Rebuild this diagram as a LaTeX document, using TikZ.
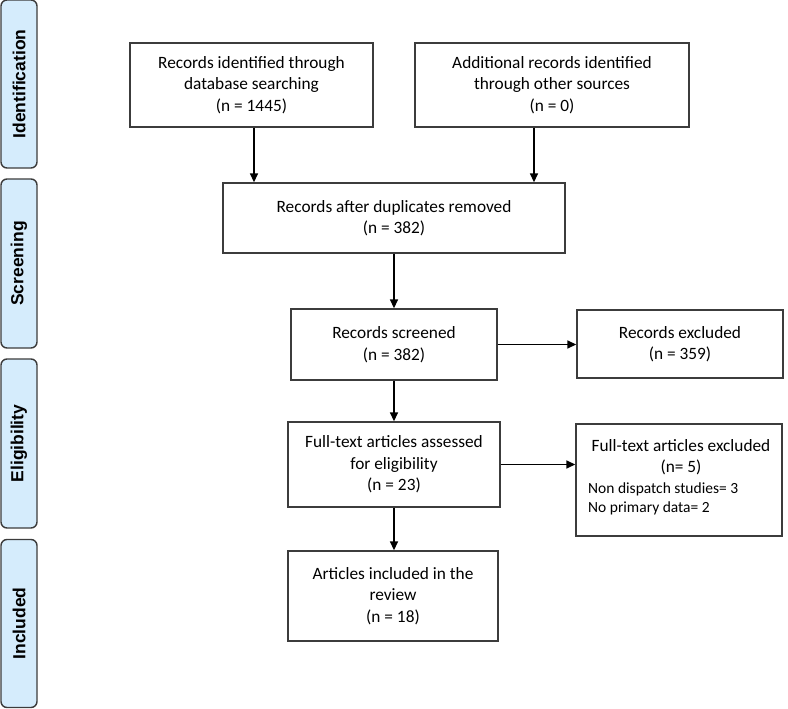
\documentclass[tikz,border=0pt]{standalone}
\usepackage{fontspec}
\setmainfont{Carlito}
\newfontfamily\sidefont{Liberation Sans}
\usetikzlibrary{arrows.meta}
\definecolor{sidefill}{RGB}{213,236,252}
\definecolor{boxline}{RGB}{60,60,60}
\tikzset{
  flowbox/.style={draw=boxline, line width=1.4pt, fill=white, inner sep=0pt, align=center,
    font=\fontsize{17.3}{21.5}\selectfont},
  sidebar/.style={draw=boxline, line width=1.4pt, fill=sidefill, rounded corners=6pt, inner sep=0pt,
    minimum width=36pt},
  sidetext/.style={rotate=90, font=\sidefont\bfseries\fontsize{17.5}{19}\selectfont},
  smalltext/.style={align=left, inner sep=0pt, font=\fontsize{15.5}{19}\selectfont},
  arr/.style={-{Triangle[length=9pt,width=8pt]}, line width=1.5pt, black}
}
\begin{document}
\begin{tikzpicture}[x=1pt,y=-1pt]
\useasboundingbox (0,0) rectangle (788,709);
% side bars
\node[sidebar, minimum height=168pt] (sid) at (19,84) {};
\node[sidetext] (sidt) at (sid.center) {Identification};
\node[sidebar, minimum height=169pt] (sscr) at (19,263.5) {};
\node[sidetext] (sscrt) at (sscr.center) {Screening};
\node[sidebar, minimum height=169pt] (selg) at (19,443.5) {};
\node[sidetext] (selgt) at (selg.center) {Eligibility};
\node[sidebar, minimum height=168pt] (sinc) at (19,623.5) {};
\node[sidetext] (sinct) at (sinc.center) {Included};
% boxes
\node[flowbox, minimum width=243pt, minimum height=84pt] (b1) at (251.5,85)
  {Records identified through\\database searching\\(n = 1445)};
\node[flowbox, minimum width=274pt, minimum height=84pt] (b2) at (552,85)
  {Additional records identified\\through other sources\\(n = 0)};
\node[flowbox, minimum width=342pt, minimum height=70pt] (b3) at (394,218)
  {Records after duplicates removed\\(n = 382)};
\node[flowbox, minimum width=206pt, minimum height=71pt] (scr) at (394,344.5)
  {Records screened\\(n = 382)};
\node[flowbox, minimum width=206pt, minimum height=68pt] (rex) at (680,344)
  {Records excluded\\(n = 359)};
\node[flowbox, minimum width=212pt, minimum height=85pt] (ass) at (394,464.5)
  {Full-text articles assessed\\for eligibility\\(n = 23)};
\node[flowbox, minimum width=206pt, minimum height=112pt] (fex) at (679,480) {};
\node[align=center, inner sep=0pt, font=\fontsize{17.3}{21.5}\selectfont] (fexh) at (681,457)
  {Full-text articles excluded\\(n= 5)};
\node[smalltext, anchor=west] (fexl) at (588,498.5)
  {Non dispatch studies= 3\\No primary data= 2};
\node[flowbox, minimum width=210pt, minimum height=90pt] (inc) at (393,596)
  {Articles included in the\\review\\(n = 18)};
% connectors
\draw[arr] ([xshift=2.5pt]b1.south) -- ([xshift=2.5pt]b1.south |- b3.north);
\draw[arr] ([xshift=-18pt]b2.south) -- ([xshift=-18pt]b2.south |- b3.north);
\draw[arr] (b3.south) -- (scr.north);
\draw[arr] (scr.south) -- (ass.north);
\draw[arr] (scr.east) -- (scr.east -| rex.west);
\draw[arr] (ass.east) -- (ass.east -| fex.west);
\draw[arr] (ass.south) -- (ass.south |- inc.north);
\end{tikzpicture}
\end{document}
